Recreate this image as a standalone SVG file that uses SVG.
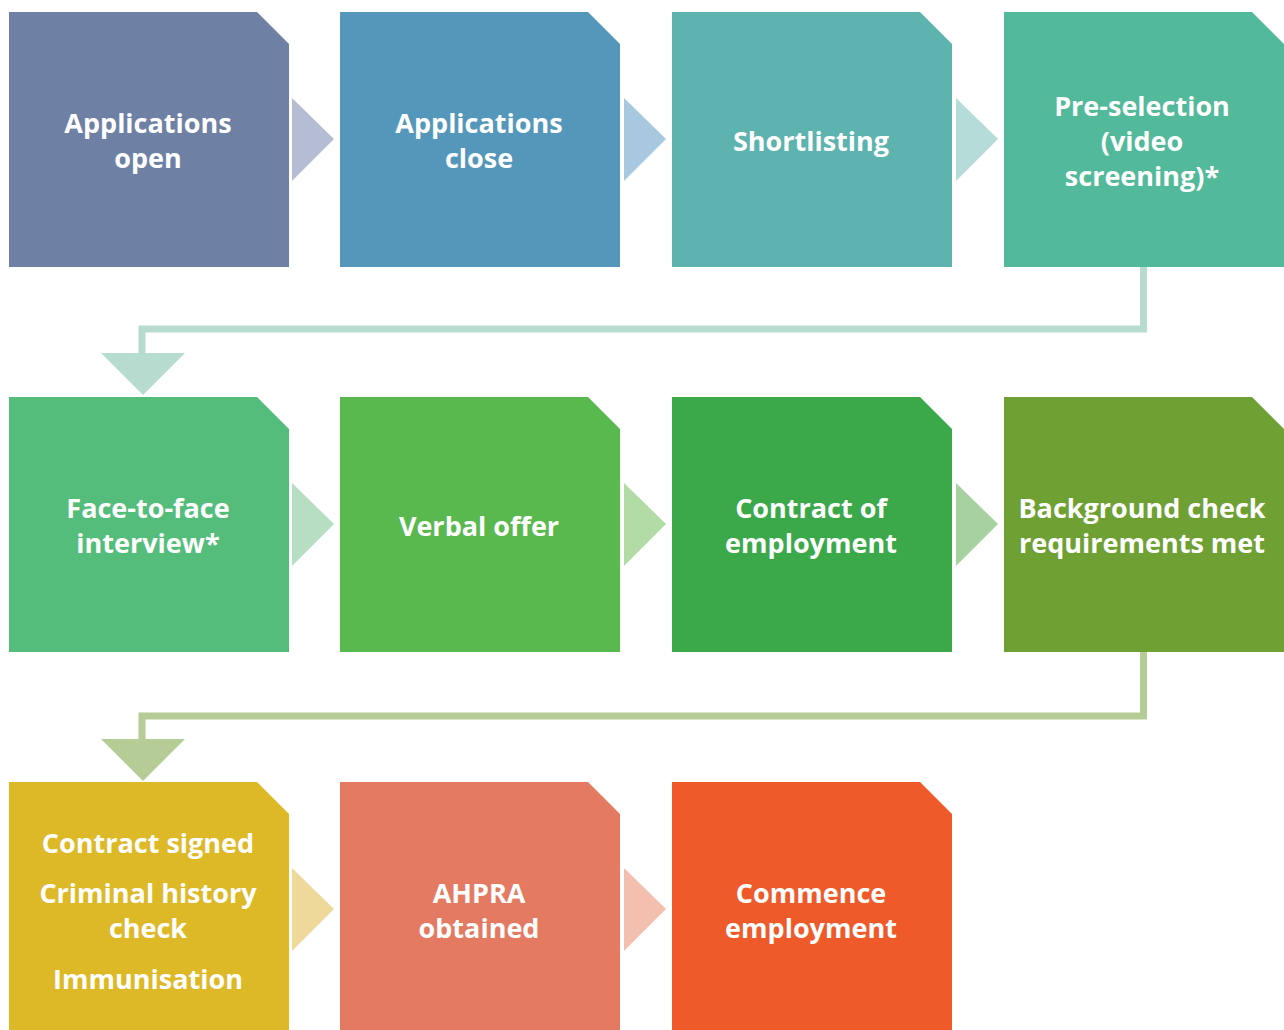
<svg xmlns="http://www.w3.org/2000/svg" width="1284" height="1030" viewBox="0 0 1284 1030">
<style>
.t{font-family:"Open Sans","Liberation Sans",sans-serif;font-weight:bold;font-size:27px;fill:#fff;text-anchor:middle}
</style>
<defs>
<path id="box" d="M0 0H248L280 32V255H0Z"/>
<path id="arr" d="M0 0L42 41L0 83Z"/>
</defs>
<rect width="1284" height="1030" fill="#fff"/>
<g id="connectors">
<use href="#arr" x="292" y="98" fill="#B5BDD4"/>
<use href="#arr" x="624" y="98" fill="#A7C8DF"/>
<use href="#arr" x="956" y="98" fill="#B6DCD9"/>
<path d="M1143.5 266V329H142V356" fill="none" stroke="#B5DCCE" stroke-width="7"/>
<path d="M101 353H185L143 395Z" fill="#B5DCCE"/>
<use href="#arr" x="292" y="483" fill="#B6DFC2"/>
<use href="#arr" x="624" y="483" fill="#B2DBA5"/>
<use href="#arr" x="956" y="483" fill="#A8D1A1"/>
<path d="M1143.5 652V716H142V741" fill="none" stroke="#B5CC96" stroke-width="7"/>
<path d="M101 739H185L143 781Z" fill="#B5CC96"/>
<use href="#arr" x="292" y="868" fill="#EED99B"/>
<use href="#arr" x="624" y="868" fill="#F3BFAE"/>
</g>
<g id="n1"><use href="#box" x="9" y="12" fill="#6F80A5"/><text class="t" x="148" y="133">Applications</text><text class="t" x="148" y="168">open</text></g>
<g id="n2"><use href="#box" x="340" y="12" fill="#5497BA"/><text class="t" x="479" y="133">Applications</text><text class="t" x="479" y="168">close</text></g>
<g id="n3"><use href="#box" x="672" y="12" fill="#5DB3AE"/><text class="t" x="811" y="151">Shortlisting</text></g>
<g id="n4"><use href="#box" x="1004" y="12" fill="#52B99A"/><text class="t" x="1142" y="116">Pre-selection</text><text class="t" x="1142" y="151">(video</text><text class="t" x="1142" y="186">screening)*</text></g>
<g id="n5"><use href="#box" x="9" y="397" fill="#54BD7B"/><text class="t" x="148" y="518">Face-to-face</text><text class="t" x="148" y="553">interview*</text></g>
<g id="n6"><use href="#box" x="340" y="397" fill="#59B94E"/><text class="t" x="479" y="536">Verbal offer</text></g>
<g id="n7"><use href="#box" x="672" y="397" fill="#3BA84A"/><text class="t" x="811" y="518">Contract of</text><text class="t" x="811" y="553">employment</text></g>
<g id="n8"><use href="#box" x="1004" y="397" fill="#6FA033"/><text class="t" x="1142" y="518">Background check</text><text class="t" x="1142" y="553">requirements met</text></g>
<g id="n9"><use href="#box" x="9" y="782" fill="#DDB927"/><text class="t" x="148" y="853">Contract signed</text><text class="t" x="148" y="903">Criminal history</text><text class="t" x="148" y="938">check</text><text class="t" x="148" y="989">Immunisation</text></g>
<g id="n10"><use href="#box" x="340" y="782" fill="#E37A61"/><text class="t" x="479" y="903">AHPRA</text><text class="t" x="479" y="938">obtained</text></g>
<g id="n11"><use href="#box" x="672" y="782" fill="#EE5A29"/><text class="t" x="811" y="903">Commence</text><text class="t" x="811" y="938">employment</text></g>
</svg>
